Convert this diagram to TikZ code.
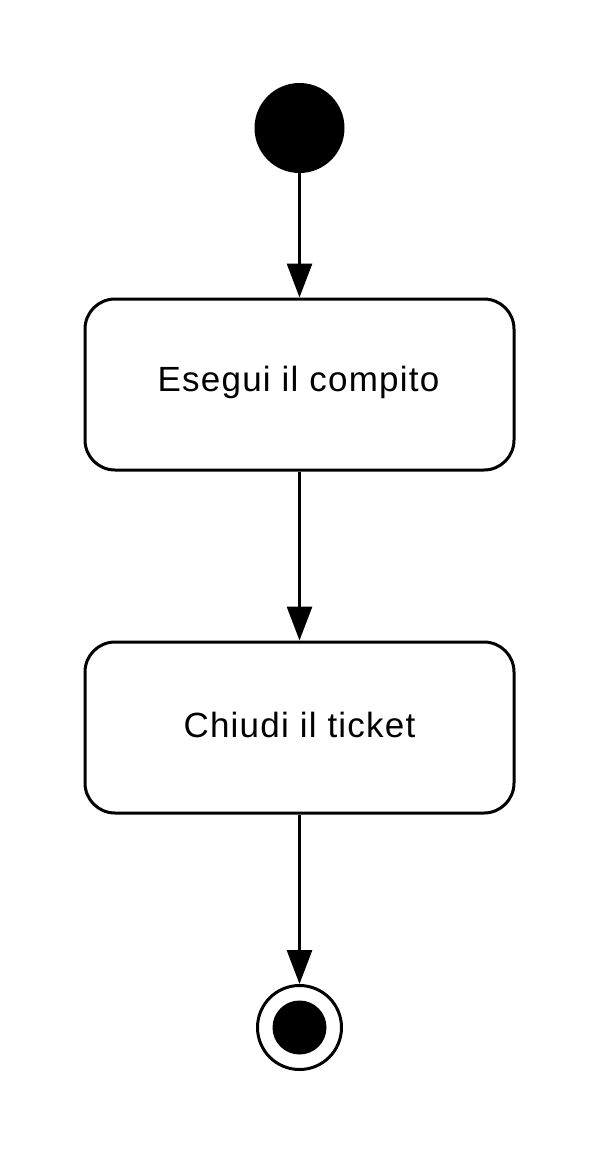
\documentclass[tikz,border=0pt]{standalone}
\usepackage{fontspec}
\setmainfont{Liberation Sans}[LetterSpace=3.5]
\usetikzlibrary{arrows.meta}
\begin{document}
\begin{tikzpicture}[x=1pt,y=-1pt,
  activity/.style={draw,line width=3pt,rounded corners=30pt,minimum width=429pt,minimum height=171pt,inner sep=0pt},
  label/.style={anchor=base,inner sep=0pt,font=\fontsize{35}{42}\selectfont},
  flow/.style={line width=3pt,-{Triangle[length=34pt,width=25pt]}},
  startnode/.style={circle,fill=black,minimum size=90pt,inner sep=0pt},
  endouter/.style={circle,draw,line width=3pt,minimum size=84pt,inner sep=0pt},
  endinner/.style={circle,fill=black,minimum size=54pt,inner sep=0pt}]
\useasboundingbox (0,0) rectangle (600,1157);
\node[startnode] (start) at (299.5,128) {};
\node[activity] (a1) at (299.5,384.5) {};
\node[label] (t1) at (298.5,391) {Esegui il compito};
\node[activity] (a2) at (299.5,727.5) {};
\node[label] (t2) at (299.5,737) {Chiudi il ticket};
\node[endouter] (end) at (299.5,1027.5) {};
\node[endinner] (endin) at (end.center) {};
\draw[flow] (start) -- (a1);
\draw[flow] (a1) -- (a2);
\draw[flow] (a2) -- (end);
\end{tikzpicture}
\end{document}
